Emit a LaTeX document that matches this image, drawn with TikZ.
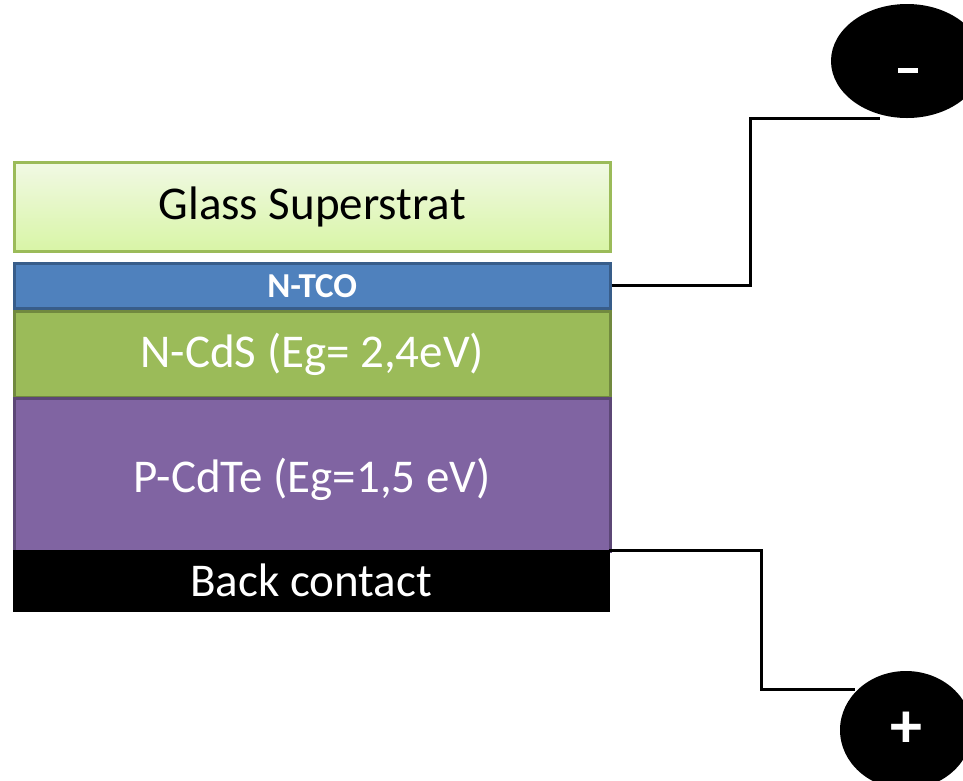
\documentclass[tikz,border=0pt]{standalone}
\usepackage{fontspec}
\setmainfont{Carlito}
\usetikzlibrary{shapes.geometric}
\definecolor{glassTop}{HTML}{F1F9E4}
\definecolor{glassBot}{HTML}{D8F5A6}
\definecolor{glassBorder}{HTML}{9BBB59}
\definecolor{tcoFill}{HTML}{4F81BD}
\definecolor{tcoBorder}{HTML}{385D8A}
\definecolor{cdsFill}{HTML}{9BBB59}
\definecolor{cdsBorder}{HTML}{71893F}
\definecolor{cdteFill}{HTML}{8064A2}
\definecolor{cdteBorder}{HTML}{5C4776}
\tikzset{
  layer/.style={rectangle, minimum width=596pt, inner sep=0pt, line width=2.5pt, anchor=north west},
  bigtext/.style={font=\fontsize{47}{47}\selectfont},
  wire/.style={line width=3pt, black},
  pole/.style={ellipse, fill=black, inner sep=0pt, text=white, font=\bfseries\fontsize{64}{64}\selectfont}
}
\begin{document}
\begin{tikzpicture}[x=1pt,y=-1pt]
\useasboundingbox (0,0) rectangle (963,780);
\node[layer, minimum height=89pt, top color=glassTop, bottom color=glassBot, draw=glassBorder,
  bigtext, text=black] (glass) at (13,161) {Glass Superstrat};
\node[layer, minimum height=45pt, fill=tcoFill, draw=tcoBorder, text=white,
  font=\bfseries\fontsize{35}{35}\selectfont] (tco) at (13,262) {N-TCO};
\node[layer, minimum height=86pt, fill=cdsFill, draw=cdsBorder, text=white,
  bigtext] (cds) at (13,310) {N-CdS (Eg= 2,4eV)};
\node[layer, minimum height=153pt, fill=cdteFill, draw=cdteBorder, text=white,
  bigtext] (cdte) at (13,397) {\raisebox{-5pt}[\height][\depth]{P-CdTe (Eg=1,5 eV)}};
\node[layer, minimum height=61pt, fill=black, draw=black, line width=0pt, text=white,
  bigtext] (back) at (13,550) {Back contact};
\node[pole, minimum width=152pt, minimum height=114pt] (minus) at (907,61) {};
\fill[white] (898,67.5) rectangle (918,73);
\node[pole, minimum width=132pt, minimum height=118pt] (plus) at (906,730) {+};
\coordinate (minusIn) at (880,118);
\coordinate (plusIn) at (855,689);
\draw[wire] (tco.east) -| (750,118) -- (minusIn);
\draw[wire] (back.north east) -| (761,689) -- (plusIn);
\end{tikzpicture}
\end{document}
